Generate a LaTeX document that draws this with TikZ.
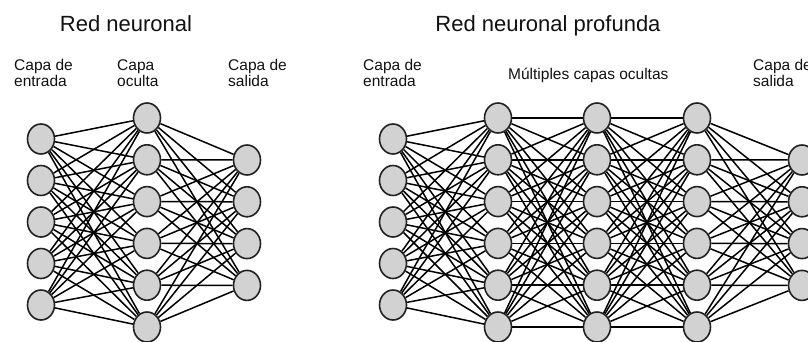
\documentclass[tikz,border=0pt]{standalone}
\usepackage{fontspec}
\setmainfont{Liberation Sans}
\usetikzlibrary{shapes.geometric,backgrounds}
\definecolor{nodefill}{HTML}{D2D2D2}
\definecolor{nodeline}{HTML}{222222}
\definecolor{txt}{HTML}{111111}
\tikzset{
  neuron/.style={ellipse, draw=nodeline, fill=nodefill, line width=1.6pt, minimum width=27pt, minimum height=30pt, inner sep=0pt},
  conn/.style={line width=1.5pt, black},
  ttl/.style={font=\fontsize{22}{26}\selectfont, text=txt, inner sep=0pt, anchor=base},
  lbl/.style={font=\fontsize{15.5}{18}\selectfont, text=txt, inner sep=0pt, anchor=base west},
}
\begin{document}
\begin{tikzpicture}[x=1pt,y=-1pt]
\useasboundingbox (0,0) rectangle (808,342);
% titles
\node[ttl] (t1) at (126,32) {Red neuronal};
\node[ttl] (t2) at (548,32) {Red neuronal profunda};
% labels left
\node[lbl] (la1) at (14,71) {Capa de};
\node[lbl] (la2) at (14,87) {entrada};
\node[lbl] (lb1) at (117,71) {Capa};
\node[lbl] (lb2) at (117,87) {oculta};
\node[lbl] (lc1) at (228,71) {Capa de};
\node[lbl] (lc2) at (228,87) {salida};
% labels right
\node[lbl] (ra1) at (363,71) {Capa de};
\node[lbl] (ra2) at (363,87) {entrada};
\node[lbl] (rb) at (508,80) {Múltiples capas ocultas};
\node[lbl] (rc1) at (753,71) {Capa de};
\node[lbl] (rc2) at (753,87) {salida};
% left network
\foreach \k in {1,...,5} \node[neuron] (Li\k) at (41,{139+41.5*(\k-1)}) {};
\foreach \k in {1,...,6} \node[neuron] (Lh\k) at (147,{118+41.8*(\k-1)}) {};
\foreach \k in {1,...,4} \node[neuron] (Lo\k) at (247,{160+41.8*(\k-1)}) {};
% right network
\foreach \k in {1,...,5} \node[neuron] (Ri\k) at (393,{139+41.5*(\k-1)}) {};
\foreach \k in {1,...,6} \node[neuron] (Ra\k) at (498,{118+41.8*(\k-1)}) {};
\foreach \k in {1,...,6} \node[neuron] (Rb\k) at (597,{118+41.8*(\k-1)}) {};
\foreach \k in {1,...,6} \node[neuron] (Rc\k) at (697,{118+41.8*(\k-1)}) {};
\foreach \k in {1,...,4} \node[neuron] (Ro\k) at (802,{160+41.8*(\k-1)}) {};
\begin{scope}[on background layer]
  \foreach \a in {1,...,5} \foreach \b in {1,...,6} \draw[conn] (Li\a) -- (Lh\b);
  \foreach \a in {1,...,6} \foreach \b in {1,...,4} \draw[conn] (Lh\a) -- (Lo\b);
  \foreach \a in {1,...,5} \foreach \b in {1,...,6} \draw[conn] (Ri\a) -- (Ra\b);
  \foreach \a in {1,...,6} \foreach \b in {1,...,6} \draw[conn] (Ra\a) -- (Rb\b);
  \foreach \a in {1,...,6} \foreach \b in {1,...,6} \draw[conn] (Rb\a) -- (Rc\b);
  \foreach \a in {1,...,6} \foreach \b in {1,...,4} \draw[conn] (Rc\a) -- (Ro\b);
\end{scope}
\end{tikzpicture}
\end{document}
